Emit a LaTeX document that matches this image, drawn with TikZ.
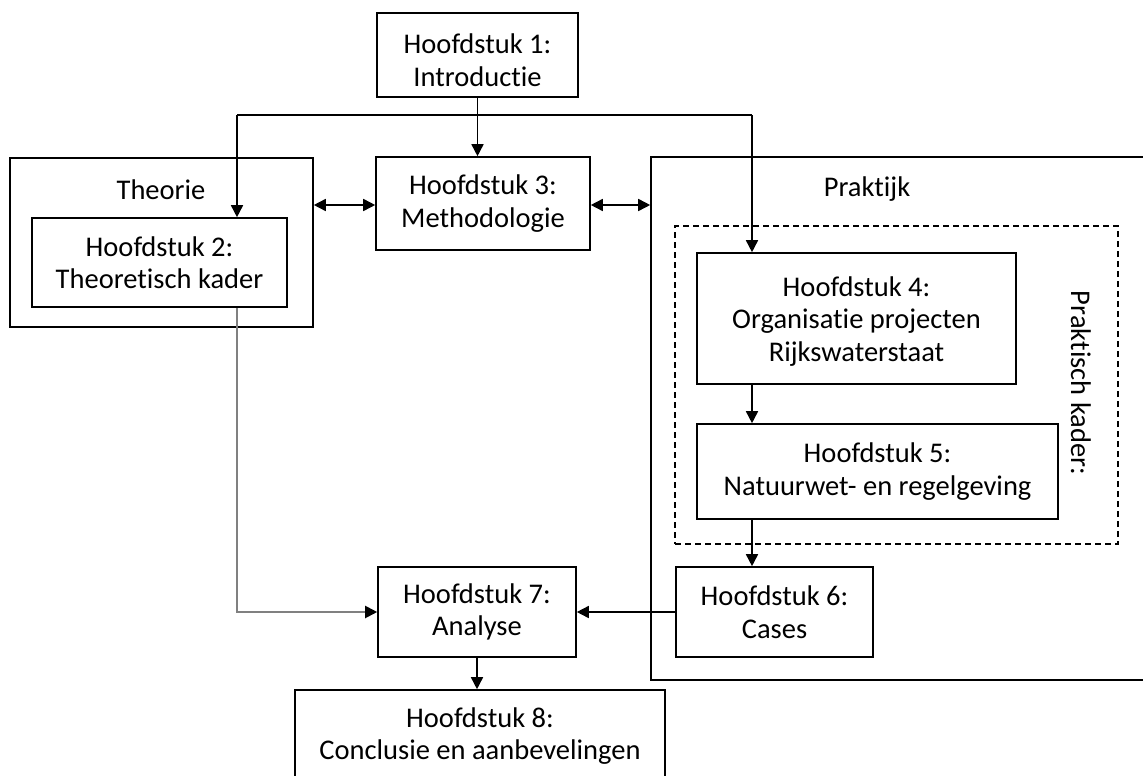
\documentclass[tikz,border=0pt]{standalone}
\usepackage{fontspec}
\setmainfont{Carlito}[RawFeature={-liga;-clig;-dlig}]
\usetikzlibrary{arrows.meta}
\begin{document}
\begin{tikzpicture}[x=1pt,y=-1pt,
  txt/.style={font=\fontsize{28.5}{32.5}\selectfont, align=center, inner sep=0pt},
  box/.style={txt, draw, line width=1.6pt},
  frame/.style={draw, line width=1.6pt, inner sep=0pt},
  arr/.style={line width=1.6pt, -{Triangle[length=12pt,width=12pt]}},
  darr/.style={line width=1.6pt, {Triangle[length=12pt,width=12pt]}-{Triangle[length=12pt,width=12pt]}},
  grayarr/.style={line width=2pt, draw=gray, -{Triangle[length=12pt,width=12pt,color=black]}}
]
\useasboundingbox[fill=white] (0,0) rectangle (1143,776);
% frames
\node[frame, minimum width=303pt, minimum height=169pt] (theorie) at (161.5,242.5) {};
\node[txt] (theorieT) at (161,190) {Theorie};
\node[frame, minimum width=520pt, minimum height=523pt] (praktijk) at (911,418.5) {};
\node[txt] (praktijkT) at (867,189) {Praktijk};
\node[frame, dashed, dash pattern=on 6pt off 4pt, minimum width=443pt, minimum height=318pt] (kader) at (896.5,385) {};
\node[txt, rotate=-90] (kaderT) at (1081,383) {Praktisch kader:};
% chapter boxes
\node[box, minimum width=201pt, minimum height=84pt] (h1) at (477.5,55) {};
\node[txt] (h1T) at (477.5,60) {Hoofdstuk 1:\\Introductie};
\node[box, minimum width=214pt, minimum height=93pt] (h3) at (483,203.5) {Hoofdstuk 3:\\Methodologie};
\node[box, minimum width=255pt, minimum height=89pt] (h2) at (159.5,262.5) {Hoofdstuk 2:\\Theoretisch kader};
\node[box, minimum width=319pt, minimum height=131pt] (h4) at (856.5,318.5) {};
\node[txt] (h4T) at (856.5,321.5) {Hoofdstuk 4:\\Organisatie projecten\\Rijkswaterstaat};
\node[box, minimum width=361pt, minimum height=95pt] (h5) at (877.5,471.5) {Hoofdstuk 5:\\Natuurwet- en regelgeving};
\node[box, minimum width=197pt, minimum height=90pt] (h6) at (774.5,612) {Hoofdstuk 6:\\Cases};
\node[box, minimum width=198pt, minimum height=90pt] (h7) at (477,612) {Hoofdstuk 7:\\Analyse};
\node[box, minimum width=370pt, minimum height=92pt] (h8) at (480,736) {Hoofdstuk 8:\\Conclusie en aanbevelingen};
% connectors
\coordinate (jL) at (237,115);
\coordinate (jR) at (752,115);
\coordinate (yd) at (0,205);
\draw[arr] (h1.south) -- (h1.south |- h3.north);
\draw[line width=1.6pt] (jL) -- (jR);
\draw[arr] (jL) -- (jL |- h2.north);
\draw[arr] (jR) -- (jR |- h4.north);
\draw[darr] (theorie.east |- yd) -- (h3.west |- yd);
\draw[darr] (h3.east |- yd) -- (praktijk.west |- yd);
\draw[arr] (jR |- h4.south) -- (jR |- h5.north);
\draw[arr] (jR |- h5.south) -- (jR |- h6.north);
\draw[arr] (h6.west) -- (h7.east);
\draw[grayarr] (jL |- h2.south) |- (h7.west);
\draw[arr] (h7.south) -- (h7.south |- h8.north);
\end{tikzpicture}
\end{document}
